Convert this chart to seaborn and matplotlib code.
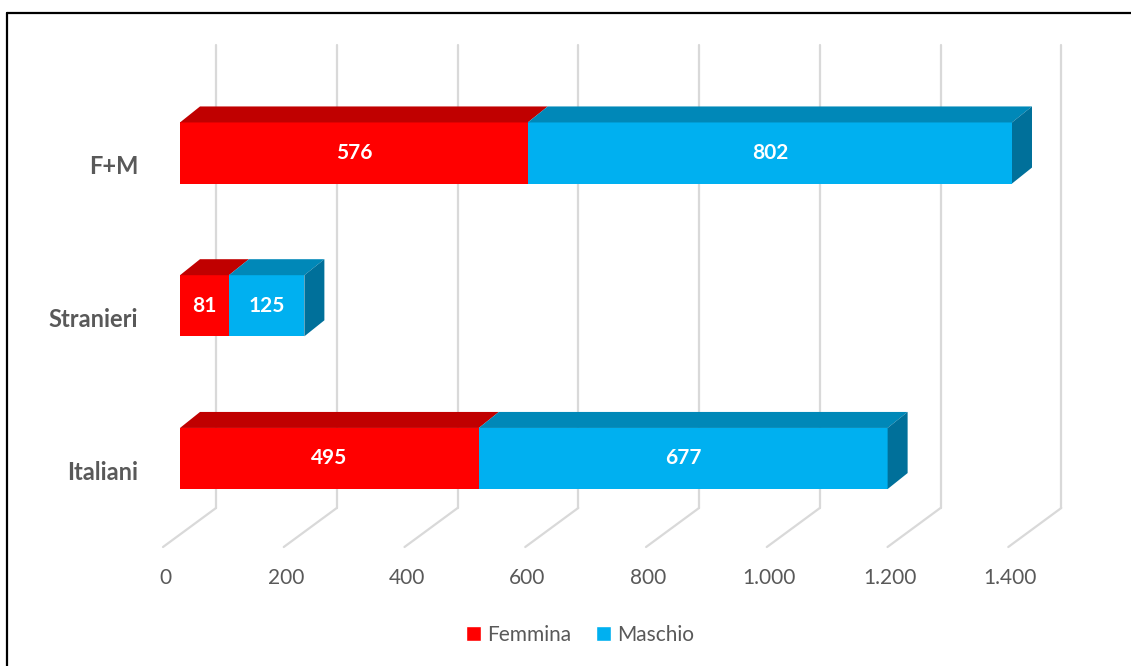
import matplotlib
matplotlib.use("Agg")
import matplotlib.pyplot as plt
from matplotlib.patches import Polygon, Patch
from matplotlib.lines import Line2D
import pandas as pd
import seaborn as sns

# data
categories = ["F+M", "Stranieri", "Italiani"]
femmina = [576, 81, 495]
maschio = [802, 125, 677]
ticks = [0, 200, 400, 600, 800, 1000, 1200, 1400]

RED, RED_TOP = "#FF0000", "#C00000"
BLUE, BLUE_TOP, BLUE_SIDE = "#00B0F0", "#0088B8", "#00709A"
GRID = "#D9D9D9"
GREY = "#595959"

sns.set_theme(style="white")
plt.rcParams["font.family"] = ["Lato", "DejaVu Sans"]

W, H = 1131, 666
fig = plt.figure(figsize=(W / 100, H / 100), dpi=100)
ax = fig.add_axes([0, 0, 1, 1])

# pixel geometry of the Excel 3D layout
PX_UNIT = 832 / 1378      # px per value unit on bar front face
X0 = 180                  # px of value 0 on front face
ROW = 152.75              # px between categories
ROW0 = 153                # px of first category center


def dx(px):
    return px / PX_UNIT


def dy(px):
    return px / ROW


df = pd.DataFrame({"cat": categories, "F": femmina, "M": maschio})
df["tot"] = df["F"] + df["M"]

bw = 0.4
sns.barplot(data=df, x="tot", y="cat", color=BLUE, saturation=1, width=bw, orient="h",
            ax=ax, zorder=2, linewidth=0)
sns.barplot(data=df, x="F", y="cat", color=RED, saturation=1, width=bw, orient="h",
            ax=ax, zorder=3, linewidth=0)
ax.set_xlim(-X0 / PX_UNIT, (W - X0) / PX_UNIT)
ax.set_ylim((H - ROW0) / ROW, -ROW0 / ROW)
ax.axis("off")

# back wall gridlines and floor
for v in ticks:
    xb = v + dx(36)
    ax.plot([xb, xb], [dy(45 - ROW0), dy(508 - ROW0)], color=GRID, lw=1.6, zorder=0)
    ax.plot([xb, v - dx(17)], [dy(508 - ROW0), dy(547 - ROW0)], color=GRID, lw=1.6, zorder=0)
    ax.text(v - dx(15), dy(578 - ROW0), f"{v:,}".replace(",", "."), ha="center", va="center",
            fontsize=15, color=GREY)

ddx, ddy = dx(20), dy(16)
for i, row in df.iterrows():
    top, bot = i - bw / 2, i + bw / 2
    f, t = row["F"], row["tot"]
    ax.add_patch(Polygon([(0, top), (f, top), (f + ddx, top - ddy), (ddx, top - ddy)],
                         closed=True, facecolor=RED_TOP, edgecolor="none", zorder=4))
    ax.add_patch(Polygon([(f, top), (t, top), (t + ddx, top - ddy), (f + ddx, top - ddy)],
                         closed=True, facecolor=BLUE_TOP, edgecolor="none", zorder=4))
    ax.add_patch(Polygon([(t, top), (t + ddx, top - ddy), (t + ddx, bot - ddy), (t, bot)],
                         closed=True, facecolor=BLUE_SIDE, edgecolor="none", zorder=4))
    ax.text(f / 2, i, str(row["F"]), ha="center", va="center", color="white",
            fontsize=15, fontweight="bold", zorder=5)
    ax.text(f + row["M"] / 2, i, str(row["M"]), ha="center", va="center", color="white",
            fontsize=15, fontweight="bold", zorder=5)
    ax.text(-dx(X0 - 138), i + dy(14), row["cat"], ha="right", va="center", color=GREY,
            fontsize=17, fontweight="bold")

handles = [Patch(facecolor=RED, label="Femmina"), Patch(facecolor=BLUE, label="Maschio")]
fig.legend(handles=handles, loc="center", bbox_to_anchor=(580 / W, 1 - 635 / H), ncol=2,
           frameon=False, fontsize=15, handlelength=0.7, handleheight=0.7,
           handletextpad=0.3, columnspacing=1.2, labelcolor=GREY)

# partial frame of the original screenshot
fig.add_artist(Line2D([7 / W, 1], [1 - 13 / H, 1 - 13 / H], color="black", lw=1.6))
fig.add_artist(Line2D([7 / W, 7 / W], [0, 1 - 13 / H], color="black", lw=1.6))

fig.savefig("out.png", dpi=100)
